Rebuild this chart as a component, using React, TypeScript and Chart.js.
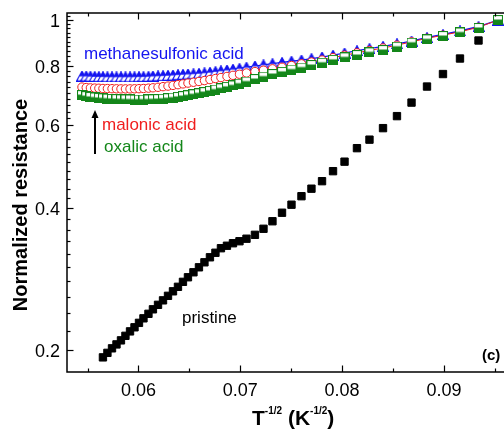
import React, { useEffect, useRef } from 'react';
import { Chart, registerables } from 'chart.js';

Chart.register(...registerables);

// T^-1/2 (K^-1/2) values shared by all samples (pristine starts at index 5)
const tInvSqrt = [
  0.05445, 0.05487, 0.05528, 0.0557, 0.05611,
  0.05651, 0.05695, 0.0574, 0.05784, 0.05828, 0.05872, 0.05917, 0.05961, 0.06005, 0.06049,
  0.06098, 0.06142, 0.06192, 0.06241, 0.0629, 0.06339, 0.06388, 0.06437, 0.06486, 0.0654,
  0.06594, 0.06648, 0.06702, 0.06756, 0.0681, 0.06869, 0.06928, 0.06992, 0.07061, 0.07144,
  0.07228, 0.07316, 0.0741, 0.07503, 0.07601, 0.07699, 0.07803, 0.07911, 0.08024, 0.08146,
  0.08269, 0.08402, 0.08539, 0.08682, 0.08834, 0.08991, 0.09158, 0.0934, 0.09531,
];

const pristine = [
  0.1933, 0.1976, 0.202, 0.2059, 0.21, 0.2147, 0.2194, 0.2238, 0.2287, 0.2338,
  0.239, 0.2443, 0.2497, 0.2552, 0.2609, 0.2667, 0.2726, 0.2793, 0.2856, 0.2926,
  0.2998, 0.3072, 0.3148, 0.3218, 0.329, 0.333, 0.3371, 0.3404, 0.3446, 0.3512,
  0.3617, 0.3752, 0.3911, 0.4067, 0.4239, 0.4397, 0.4561, 0.4789, 0.5016, 0.5357,
  0.5584, 0.5906, 0.6262, 0.6689, 0.7233, 0.7687, 0.8291, 0.9052, 0.998,
];

const methanesulfonic = [
  0.7612, 0.7612, 0.7605, 0.7597, 0.7593, 0.759, 0.7586, 0.7582, 0.7582, 0.7582,
  0.7582, 0.7582, 0.7586, 0.759, 0.7593, 0.7601, 0.7612, 0.762, 0.7627, 0.7638,
  0.7649, 0.7664, 0.7675, 0.7687, 0.7698, 0.7713, 0.7732, 0.7754, 0.7781, 0.7808,
  0.7838, 0.7869, 0.7903, 0.7946, 0.7993, 0.804, 0.8087, 0.8134, 0.8182, 0.823,
  0.8287, 0.8352, 0.8425, 0.8516, 0.8612, 0.8705, 0.8799, 0.8907, 0.9029, 0.9185,
  0.932, 0.9481, 0.9691, 1.0,
];

const malonic = [
  0.7214, 0.7197, 0.7186, 0.7179, 0.7173, 0.7165, 0.7162, 0.7158, 0.7154, 0.7151,
  0.7151, 0.7151, 0.7154, 0.7158, 0.7165, 0.7176, 0.7189, 0.7207, 0.7229, 0.7249,
  0.7274, 0.7299, 0.7327, 0.7356, 0.7385, 0.7414, 0.7446, 0.7483, 0.752, 0.7557,
  0.7597, 0.7639, 0.768, 0.7729, 0.7781, 0.7832, 0.7886, 0.7946, 0.8013, 0.808,
  0.815, 0.823, 0.8326, 0.8425, 0.8524, 0.8625, 0.8727, 0.8847, 0.8994, 0.9149,
  0.9288, 0.9445, 0.9654, 1.0,
];

const oxalic = [
  0.6938, 0.6905, 0.6877, 0.6857, 0.6844, 0.6831, 0.6821, 0.6811, 0.6804, 0.6798,
  0.6794, 0.6791, 0.6788, 0.6788, 0.6788, 0.6791, 0.6798, 0.6804, 0.6817, 0.6834,
  0.6854, 0.6877, 0.6905, 0.6932, 0.6966, 0.7, 0.7041, 0.7082, 0.7127, 0.7173,
  0.7222, 0.7274, 0.7335, 0.7411, 0.7502, 0.7593, 0.7687, 0.777, 0.7858, 0.7934,
  0.8032, 0.8123, 0.8238, 0.8339, 0.8433, 0.8545, 0.8642, 0.8782, 0.8955, 0.9104,
  0.9252, 0.9412, 0.9621, 1.0,
];

const xMajorTicks = [0.06, 0.07, 0.08, 0.09];
const xTickLabels = ['0.06', '0.07', '0.08', '0.09'];
const xMinorTicks = [0.055, 0.065, 0.075, 0.085, 0.095];
const yMajorTicks = [0.2, 0.4, 0.6, 0.8, 1];
const yTickLabels = ['0.2', '0.4', '0.6', '0.8', '1'];

const BLUE = '#1414f0';
const RED = '#f01e1e';
const GREEN = '#14871a';
const FONT = '"Liberation Sans", Arial, Helvetica, sans-serif';

function makeTriangle(): HTMLCanvasElement {
  const c = document.createElement('canvas');
  c.width = 12; c.height = 11;
  const g = c.getContext('2d')!;
  g.beginPath();
  g.moveTo(6, 0.6); g.lineTo(11.4, 10.4); g.lineTo(0.6, 10.4); g.closePath();
  g.fillStyle = '#fff'; g.fill();
  g.save(); g.clip(); g.fillStyle = BLUE; g.fillRect(0, 0, 12, 5.8); g.restore();
  g.strokeStyle = BLUE; g.lineWidth = 1.1; g.stroke();
  return c;
}

function makeHalfSquare(): HTMLCanvasElement {
  const c = document.createElement('canvas');
  c.width = 10; c.height = 10;
  const g = c.getContext('2d')!;
  g.fillStyle = '#fff'; g.fillRect(0.5, 0.5, 9, 9);
  g.fillStyle = GREEN; g.fillRect(0.5, 4.5, 9, 5);
  g.strokeStyle = GREEN; g.lineWidth = 1.1; g.strokeRect(0.5, 0.5, 9, 9);
  return c;
}

const decorPlugin = {
  id: 'decor',
  afterDraw(chart: any) {
    const { ctx, chartArea: a, scales } = chart;
    const x = scales.x, y = scales.y;
    ctx.save();
    ctx.strokeStyle = '#000';
    ctx.lineWidth = 1.5;
    ctx.beginPath();
    ctx.rect(a.left, a.top, a.right - a.left, a.bottom - a.top);
    ctx.stroke();

    const seg = (x1: number, y1: number, x2: number, y2: number) => {
      ctx.beginPath(); ctx.moveTo(x1, y1); ctx.lineTo(x2, y2); ctx.stroke();
    };
    ctx.lineWidth = 1.2;
    for (const v of xMajorTicks) {
      const p = Math.round(x.getPixelForValue(v)) + 0.5;
      seg(p, a.bottom, p, a.bottom - 6.5);
      seg(p, a.top, p, a.top + 6.5);
    }
    for (const v of xMinorTicks) {
      const p = Math.round(x.getPixelForValue(v)) + 0.5;
      seg(p, a.bottom, p, a.bottom - 3.5);
      seg(p, a.top, p, a.top + 3.5);
    }
    for (let k = 9; k <= 51; k++) {
      const v = k * 0.02;
      const p = Math.round(y.getPixelForValue(v)) + 0.5;
      if (p < a.top || p > a.bottom) continue;
      const major = k % 10 === 0;
      seg(a.left, p, a.left + (major ? 6.5 : 3.5), p);
    }

    // axis titles
    ctx.fillStyle = '#000';
    ctx.font = `bold 20px ${FONT}`;
    ctx.textAlign = 'center';
    ctx.textBaseline = 'alphabetic';
    ctx.save();
    ctx.translate(26.5, 205);
    ctx.rotate(-Math.PI / 2);
    ctx.fillText('Normalized resistance', 0, 0);
    ctx.restore();

    ctx.textAlign = 'left';
    let cx = 252;
    const main = `bold 21px ${FONT}`;
    const sup = `bold 10px ${FONT}`;
    const part = (t: string, f: string, by: number) => {
      ctx.font = f; ctx.fillText(t, cx, by); cx += ctx.measureText(t).width;
    };
    part('T', main, 425);
    part('-1/2', sup, 414);
    part(' (K', main, 425);
    part('-1/2', sup, 414);
    part(')', main, 425);

    // annotations
    ctx.textBaseline = 'middle';
    ctx.font = `17px ${FONT}`;
    ctx.fillStyle = BLUE; ctx.fillText('methanesulfonic acid', 84, 54);
    ctx.fillStyle = RED; ctx.fillText('malonic acid', 102, 125);
    ctx.fillStyle = GREEN; ctx.fillText('oxalic acid', 104, 147);
    ctx.fillStyle = '#000'; ctx.fillText('pristine', 182, 318);
    ctx.font = `bold 15px ${FONT}`;
    ctx.fillText('(c)', 482, 356);

    // arrow
    ctx.strokeStyle = '#000'; ctx.lineWidth = 2;
    seg(95, 154, 95, 117);
    ctx.beginPath();
    ctx.moveTo(95, 110); ctx.lineTo(98.5, 118); ctx.lineTo(91.5, 118); ctx.closePath();
    ctx.fill();
    ctx.restore();
  },
};

export default function App() {
  const ref = useRef<HTMLCanvasElement | null>(null);
  useEffect(() => {
    if (!ref.current) return;
    const tri = makeTriangle();
    const sq = makeHalfSquare();
    const pts = (ys: number[], offset = 0) => ys.map((v, i) => ({ x: tInvSqrt[i + offset], y: v }));
    const tickFont = { family: FONT, size: 18 };
    const chart = new Chart(ref.current, {
      type: 'scatter',
      data: {
        datasets: [
          {
            label: 'oxalic acid', data: pts(oxalic), showLine: false,
            pointStyle: sq as any, pointRadius: 5, borderColor: GREEN, backgroundColor: GREEN,
          },
          {
            label: 'malonic acid', data: pts(malonic), showLine: true, borderColor: RED, borderWidth: 1,
            pointStyle: 'circle', pointRadius: 4.2, pointBorderWidth: 1, pointBorderColor: RED,
            pointBackgroundColor: '#fff', backgroundColor: '#fff',
          },
          {
            label: 'methanesulfonic acid', data: pts(methanesulfonic), showLine: true, borderColor: BLUE, borderWidth: 1.3,
            pointStyle: tri as any, pointRadius: 5, backgroundColor: BLUE,
          },
          {
            label: 'pristine', data: pts(pristine, 5), showLine: false,
            pointStyle: 'rect', pointRadius: 5.2, pointBorderWidth: 1, borderColor: '#000', backgroundColor: '#000',
          },
        ],
      },
      options: {
        responsive: false,
        maintainAspectRatio: false,
        animation: false,
        devicePixelRatio: 1,
        layout: { padding: { top: 13, right: 13, left: 0, bottom: 0 } },
        plugins: { legend: { display: false }, tooltip: { enabled: false } },
        scales: {
          x: {
            type: 'linear', min: 0.05298, max: 0.09718,
            afterBuildTicks: (s: any) => { s.ticks = xMajorTicks.map((v) => ({ value: v })); },
            ticks: {
              callback: (_v: any, i: number) => xTickLabels[i],
              font: tickFont, color: '#000', padding: 8, maxRotation: 0, autoSkip: false,
            },
            grid: { display: false, drawTicks: false },
            border: { display: false },
            afterFit: (s: any) => { s.height = 57; s.paddingLeft = 0; s.paddingRight = 0; },
          },
          y: {
            type: 'logarithmic', min: 0.18, max: 1.035,
            afterBuildTicks: (s: any) => { s.ticks = yMajorTicks.map((v) => ({ value: v })); },
            ticks: {
              callback: (_v: any, i: number) => yTickLabels[i],
              font: tickFont, color: '#000', padding: 7, autoSkip: false, labelOffset: 2,
            },
            grid: { display: false, drawTicks: false },
            border: { display: false },
            afterFit: (s: any) => { s.width = 67; s.paddingTop = 0; s.paddingBottom = 0; },
          },
        },
      },
      plugins: [decorPlugin],
    } as any);
    return () => chart.destroy();
  }, []);

  return (
    <div style={{ position: 'absolute', left: 0, top: 0, width: 504, height: 429, overflow: 'hidden', background: '#fff' }}>
      <canvas ref={ref} width={530} height={429} style={{ display: 'block', width: 530, height: 429 }} />
    </div>
  );
}
